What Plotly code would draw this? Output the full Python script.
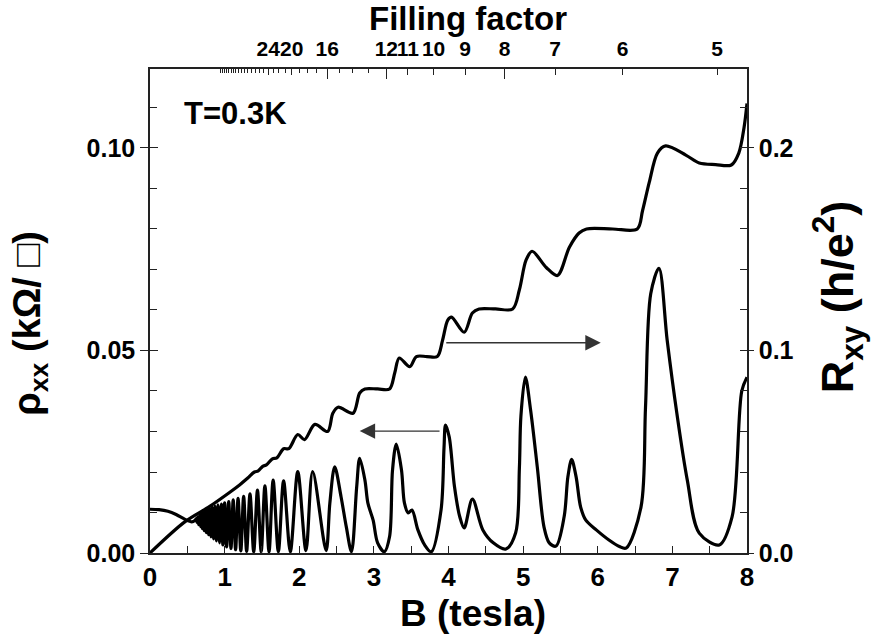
import plotly.graph_objects as go

# ---------------- data ----------------
# rho_xx (kOhm/sq) versus B (tesla)
B_rho = [0.00, 0.12, 0.24, 0.35, 0.47, 0.56,
         0.60, 0.62, 0.63, 0.64, 0.652, 0.665, 0.677, 0.69, 0.702, 0.715, 0.727, 0.74, 0.755,
         0.77, 0.785, 0.80, 0.817, 0.835, 0.852, 0.87, 0.89, 0.91, 0.932, 0.955, 0.977,
         1.00, 1.027, 1.055, 1.085, 1.115, 1.147, 1.18, 1.217, 1.255, 1.295, 1.34, 1.39,
         1.44, 1.49, 1.54, 1.595, 1.65, 1.72, 1.79, 1.88, 1.98, 2.09, 2.18, 2.36,
         2.41, 2.475, 2.56, 2.63, 2.70, 2.77, 2.81, 2.88, 2.92, 2.99, 3.05, 3.14,
         3.21, 3.25, 3.30, 3.37, 3.41, 3.46, 3.51, 3.59, 3.68, 3.77,
         3.90, 3.94, 3.96, 4.01, 4.08, 4.15, 4.21, 4.32, 4.46, 4.60, 4.77,
         4.90, 4.95, 4.97, 5.03, 5.10, 5.19, 5.28, 5.35, 5.44,
         5.55, 5.60, 5.65, 5.71, 5.77, 5.84, 5.98, 6.15, 6.29, 6.38,
         6.58, 6.64, 6.71, 6.82, 6.93, 7.06, 7.20, 7.36, 7.63, 7.80, 7.93, 8.00]
rho_xx = [0.0108, 0.0107, 0.0103, 0.0095, 0.0083, 0.0077,
          0.0080, 0.0085, 0.0075, 0.0089, 0.0070, 0.0093, 0.0065, 0.0097, 0.0060, 0.0100, 0.0055, 0.0104, 0.0050,
          0.0107, 0.0045, 0.0110, 0.0040, 0.0113, 0.0035, 0.0116, 0.0030, 0.0119, 0.0025, 0.0121, 0.0020,
          0.0124, 0.0015, 0.0127, 0.0011, 0.0131, 0.0008, 0.0135, 0.0005, 0.0140, 0.0004, 0.0146, 0.0003,
          0.0155, 0.0003, 0.0166, 0.0003, 0.0180, 0.0003, 0.0178, 0.0003, 0.0201, 0.0006, 0.0201, 0.0006,
          0.0123, 0.0213, 0.0139, 0.0065, 0.0003, 0.0164, 0.0234, 0.0180, 0.0123, 0.0081, 0.0025, 0.0003,
          0.0040, 0.0205, 0.0269, 0.0205, 0.0123, 0.0099, 0.0106, 0.0057, 0.0020, 0.0003,
          0.0106, 0.0260, 0.0316, 0.0286, 0.0164, 0.0090, 0.0062, 0.0133, 0.0057, 0.0025, 0.0010,
          0.0050, 0.0210, 0.0337, 0.0434, 0.0353, 0.0212, 0.0064, 0.0025, 0.0017,
          0.0090, 0.0188, 0.0231, 0.0188, 0.0114, 0.0081, 0.0057, 0.0032, 0.0016, 0.0012,
          0.0114, 0.0360, 0.0640, 0.0703, 0.0526, 0.0345, 0.0180, 0.0049, 0.0020, 0.0089, 0.0400, 0.0434]

# R_xy (h/e^2) versus B (tesla)
B_hall = [0.00, 0.47, 0.80, 1.07, 1.20, 1.31, 1.40, 1.45, 1.51, 1.56, 1.64, 1.70, 1.79, 1.86,
          1.98, 2.07, 2.21, 2.38, 2.45, 2.52, 2.72, 2.81, 2.88, 3.05, 3.21, 3.28, 3.34, 3.48,
          3.57, 3.71, 3.85, 3.92, 3.99, 4.04, 4.21, 4.32, 4.41, 4.63, 4.86, 4.95, 5.04, 5.12,
          5.31, 5.46, 5.62, 5.75, 5.85, 6.20, 6.53, 6.60, 6.69, 6.80, 6.91, 7.18, 7.36, 7.58,
          7.79, 7.89, 7.96, 8.00]
R_xy = [0.0000, 0.0155, 0.0230, 0.0300, 0.0336, 0.0370, 0.0400, 0.0405, 0.0428, 0.0435, 0.0465, 0.0470, 0.0515, 0.0515,
        0.0585, 0.0560, 0.0635, 0.0600, 0.0690, 0.0720, 0.0690, 0.0790, 0.0810, 0.0810, 0.0810, 0.0890, 0.0963, 0.0920,
        0.0970, 0.0970, 0.0970, 0.1050, 0.1150, 0.1165, 0.1090, 0.1185, 0.1205, 0.1205, 0.1205, 0.1300, 0.1447, 0.1490,
        0.1410, 0.1370, 0.1510, 0.1580, 0.1600, 0.1600, 0.1600, 0.1690, 0.1830, 0.1975, 0.2010, 0.1965, 0.1926, 0.1918,
        0.1916, 0.1975, 0.2100, 0.2220]

# filling factor (top axis), nu = NU_TIMES_B / B
NU_TIMES_B = 38.0
nu_labeled = [24, 20, 16, 12, 11, 10, 9, 8, 7, 6, 5]
nu_long = [16, 12, 8]
nu_minor = [13, 14, 15, 17, 18, 19, 21, 22, 23, 25, 26, 27, 28, 29, 30,
            31, 32, 33, 34, 35, 36, 37, 38, 39, 40]

# ---------------- figure ----------------
FONT = "Liberation Sans, Arial, Helvetica, sans-serif"
LINE = "#222222"
XR = [0, 8]
Y1R = [0, 0.1195]
Y2R = [0, 0.239]


def nu_to_B(values):
    return [NU_TIMES_B / v for v in values]


fig = go.Figure()
fig.add_trace(go.Scatter(x=B_rho, y=rho_xx, mode="lines", xaxis="x", yaxis="y",
                         line=dict(color="black", width=3.2, shape="spline", smoothing=0.9),
                         showlegend=False, name="rho_xx"))
fig.add_trace(go.Scatter(x=B_hall, y=R_xy, mode="lines", xaxis="x", yaxis="y2",
                         line=dict(color="black", width=3.2, shape="spline", smoothing=0.9),
                         showlegend=False, name="R_xy"))
# empty traces so the helper axes are drawn
for xa, ya in [("x2", "y"), ("x3", "y"), ("x", "y3"), ("x", "y4")]:
    fig.add_trace(go.Scatter(x=[], y=[], xaxis=xa, yaxis=ya, showlegend=False, hoverinfo="skip"))

tick_font = dict(family=FONT, size=25, color="black", weight="bold")

fig.update_layout(
    width=874, height=634,
    margin=dict(l=150, r=127, t=69, b=81),
    paper_bgcolor="white", plot_bgcolor="white",
    showlegend=False,
    xaxis=dict(range=XR, showgrid=False, zeroline=False, showline=True, linecolor=LINE,
               linewidth=1.5, mirror=True, ticks="inside", ticklen=7, tickwidth=1.2,
               tickcolor=LINE, tickmode="linear", tick0=0, dtick=1,
               minor=dict(ticks="inside", ticklen=7, tickwidth=1.2, tickcolor=LINE, dtick=0.5),
               tickfont=dict(family=FONT, size=26, color="black", weight="bold")),
    xaxis2=dict(range=XR, overlaying="x", side="top", anchor="y", showgrid=False, zeroline=False,
                showline=False, ticks="inside", ticklen=6, tickwidth=1.2, tickcolor=LINE,
                tickmode="array", tickvals=nu_to_B(nu_labeled), ticktext=[str(v) for v in nu_labeled],
                tickangle=0, ticklabelstandoff=8,
                minor=dict(ticks="inside", ticklen=4, tickwidth=1, tickcolor=LINE,
                           tickmode="array", tickvals=nu_to_B(nu_minor)),
                tickfont=dict(family=FONT, size=21, color="black", weight="bold")),
    xaxis3=dict(range=XR, overlaying="x", side="top", anchor="y", showgrid=False, zeroline=False,
                showline=False, ticks="inside", ticklen=10, tickwidth=1.2, tickcolor=LINE,
                tickmode="array", tickvals=nu_to_B(nu_long), showticklabels=False),
    yaxis=dict(range=Y1R, showgrid=False, zeroline=False, showline=True, linecolor=LINE,
               linewidth=1.5, ticks="outside", ticklen=8, tickwidth=1.2, tickcolor=LINE,
               tickmode="linear", tick0=0, dtick=0.05, tickformat=".2f",
               minor=dict(ticks="inside", ticklen=7, tickwidth=1.2, tickcolor=LINE, dtick=0.01),
               tickfont=tick_font),
    yaxis3=dict(range=Y1R, overlaying="y", side="left", anchor="x", showgrid=False, zeroline=False,
                showline=False, ticks="inside", ticklen=8, tickwidth=1.2, tickcolor=LINE,
                tickmode="linear", tick0=0, dtick=0.05, showticklabels=False),
    yaxis2=dict(range=Y2R, overlaying="y", side="right", anchor="x", showgrid=False, zeroline=False,
                showline=True, linecolor=LINE, linewidth=1.5, ticks="outside", ticklen=5,
                tickwidth=1.2, tickcolor=LINE, tickmode="linear", tick0=0, dtick=0.1,
                tickformat=".1f",
                minor=dict(ticks="inside", ticklen=7, tickwidth=1.2, tickcolor=LINE, dtick=0.02),
                tickfont=tick_font),
    yaxis4=dict(range=Y2R, overlaying="y", side="right", anchor="x", showgrid=False, zeroline=False,
                showline=False, ticks="inside", ticklen=7, tickwidth=1.2, tickcolor=LINE,
                tickmode="linear", tick0=0, dtick=0.1, showticklabels=False),
)

ann = [
    dict(text="Filling factor", xref="paper", yref="paper", x=0.533, y=1.105,
         xanchor="center", yanchor="middle", showarrow=False,
         font=dict(family=FONT, size=33, color="black", weight="bold")),
    dict(text="B (tesla)", xref="paper", yref="paper", x=0.541, y=-0.125,
         xanchor="center", yanchor="middle", showarrow=False,
         font=dict(family=FONT, size=37, color="black", weight="bold")),
    dict(text="ρ<sub>xx</sub> (kΩ/ □)", xref="paper", yref="paper", x=-0.2, y=0.475,
         xanchor="center", yanchor="middle", showarrow=False, textangle=-90,
         font=dict(family=FONT, size=38, color="black", weight="bold")),
    dict(text="R<sub>xy</sub> (h/e<sup>2</sup>)", xref="paper", yref="paper", x=1.152, y=0.53,
         xanchor="center", yanchor="middle", showarrow=False, textangle=-90,
         font=dict(family=FONT, size=45, color="black", weight="bold")),
    dict(text="T=0.3K", xref="paper", yref="paper", x=0.053, y=0.909,
         xanchor="left", yanchor="middle", showarrow=False,
         font=dict(family=FONT, size=31, color="black", weight="bold")),
    # arrows
    dict(text="", x=2.81, y=0.0301, ax=3.90, ay=0.0301, xref="x", yref="y", axref="x", ayref="y",
         showarrow=True, arrowhead=2, arrowsize=2.2, arrowwidth=1.4, arrowcolor="#333333", standoff=0),
    dict(text="", x=6.04, y=0.0519, ax=3.95, ay=0.0519, xref="x", yref="y", axref="x", ayref="y",
         showarrow=True, arrowhead=2, arrowsize=2.2, arrowwidth=1.4, arrowcolor="#333333", standoff=0),
]
fig.update_layout(annotations=ann)

# the page's default 8px body margin would shift the figure; remove it
fig.write_html("out.html", config={"displayModeBar": False},
               post_script="document.body.style.margin='0px';")
